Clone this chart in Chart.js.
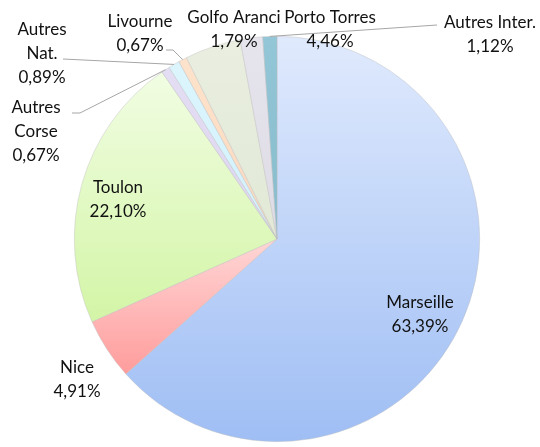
<!DOCTYPE html>
<html>
<head>
<meta charset="utf-8">
<script src="https://cdn.jsdelivr.net/npm/chart.js@4.4.1/dist/chart.umd.min.js"></script>
<style>
  html, body { margin: 0; padding: 0; background: #fff; }
  #wrap { width: 540px; height: 447px; position: relative; }
</style>
</head>
<body>
<div id="wrap"><canvas id="pie"></canvas></div>
<script>
const categories = ['Marseille', 'Nice', 'Toulon', 'Autres Corse', 'Autres Nat.', 'Livourne', 'Porto Torres', 'Golfo Aranci', 'Autres Inter.'];
const shares = [63.39, 4.91, 22.10, 0.67, 0.89, 0.67, 4.46, 1.79, 1.12];
const labelText = [['Marseille'], ['Nice'], ['Toulon'], ['Autres', 'Corse'], ['Autres', 'Nat.'], ['Livourne'], ['Porto Torres'], ['Golfo Aranci'], ['Autres Inter.']];

// top / bottom colour of each slice gradient
const fills = [
    ['#e0eafd', '#9fbef4'],
    ['#ffd6d6', '#ff9c9c'],
    ['#f1fde3', '#d3f5a6'],
    ['#e4def4', '#ddd5f0'],
    ['#dcf5fd', '#d2f1fc'],
    ['#fde3cc', '#fcd9bd'],
    ['#e9eee0', '#e2e9d6'],
    ['#e6e4ec', '#dedbe6'],
    ['#93c6d6', '#86bccd']
];

// label placement: centre x, first baseline y
const labelPos = [[420, 308], [77, 373], [118, 193], [36, 113], [42, 35], [140, 27], [330, 23], [234, 23], [490, 28]];
// leader line start points (end is the slice edge)
const leaders = { 3: [[72, 113], [80, 113]], 4: [[63, 59]], 5: [[166, 50], [173, 50]], 8: [[437, 25]] };

function fmt(v) {
    return v.toFixed(2).replace('.', ',') + '%';
}

function sliceFill(ctx) {
    const chart = ctx.chart;
    const area = chart.chartArea;
    const pair = fills[ctx.dataIndex];
    if (!area) return pair[0];
    const cx = (area.left + area.right) / 2;
    const cy = (area.top + area.bottom) / 2;
    const r = Math.min(area.right - area.left, area.bottom - area.top) / 2;
    const total = shares.reduce((a, b) => a + b, 0);
    let before = 0;
    for (let i = 0; i < ctx.dataIndex; i++) before += shares[i];
    const a0 = -Math.PI / 2 + before / total * Math.PI * 2;
    const a1 = a0 + shares[ctx.dataIndex] / total * Math.PI * 2;
    let minY = cy, maxY = cy;
    for (let k = 0; k <= 40; k++) {
        const a = a0 + (a1 - a0) * k / 40;
        const y = cy + r * Math.sin(a);
        minY = Math.min(minY, y);
        maxY = Math.max(maxY, y);
    }
    const g = chart.ctx.createLinearGradient(0, minY, 0, maxY);
    g.addColorStop(0, pair[0]);
    g.addColorStop(1, pair[1]);
    return g;
}

const labelPlugin = {
    id: 'sliceLabels',
    afterDatasetsDraw(chart) {
        const c = chart.ctx;
        const arcs = chart.getDatasetMeta(0).data;
        c.save();
        // leader lines
        c.strokeStyle = '#a6a6a6';
        c.lineWidth = 1;
        Object.keys(leaders).forEach(k => {
            const i = +k;
            const p = arcs[i].getProps(['x', 'y', 'startAngle', 'endAngle', 'outerRadius'], true);
            const mid = (p.startAngle + p.endAngle) / 2;
            const pts = leaders[i];
            c.beginPath();
            c.moveTo(pts[0][0], pts[0][1]);
            for (let j = 1; j < pts.length; j++) c.lineTo(pts[j][0], pts[j][1]);
            c.lineTo(p.x + p.outerRadius * Math.cos(mid), p.y + p.outerRadius * Math.sin(mid));
            c.stroke();
        });
        // texts
        c.fillStyle = '#111';
        c.font = '17px Lato';
        c.textAlign = 'center';
        c.textBaseline = 'alphabetic';
        categories.forEach((name, i) => {
            const lines = labelText[i].concat([fmt(shares[i])]);
            lines.forEach((t, j) => {
                c.fillText(t, labelPos[i][0], labelPos[i][1] + j * 24);
            });
        });
        c.restore();
    }
};

new Chart(document.getElementById('pie'), {
    type: 'pie',
    data: {
        labels: categories,
        datasets: [{
            data: shares,
            backgroundColor: sliceFill,
            borderColor: 'rgba(190,190,190,0.7)',
            borderWidth: 0.6
        }]
    },
    options: {
        responsive: true,
        maintainAspectRatio: false,
        animation: false,
        layout: { padding: { top: 36, bottom: 5, left: 74, right: 60 } },
        plugins: {
            legend: { display: false },
            tooltip: { enabled: false }
        }
    },
    plugins: [labelPlugin]
});
</script>
</body>
</html>
